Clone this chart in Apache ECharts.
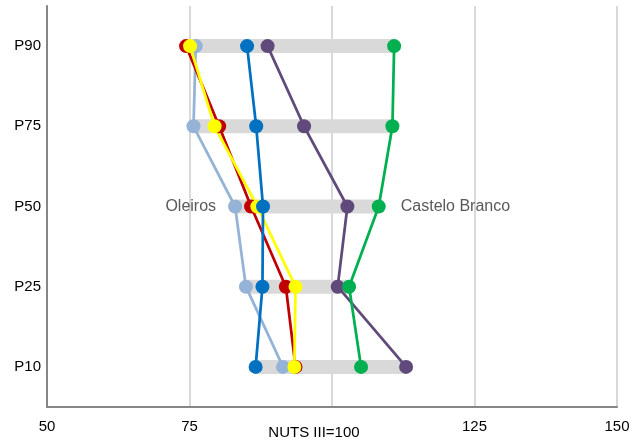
<!DOCTYPE html>
<html>
<head>
<meta charset="utf-8">
<script src="https://cdn.jsdelivr.net/npm/echarts@6/dist/echarts.min.js"></script>
<style>html,body{margin:0;padding:0;background:#fff}#c{width:644px;height:441px}</style>
</head>
<body>
<div id="c"></div>
<script>
var categories = ['P10', 'P25', 'P50', 'P75', 'P90'];
var xTicks = [50, 75, 100, 125, 150];
var oleiros = [91.4, 84.9, 83.0, 75.7, 76.1];
var redSeries = [93.6, 91.9, 85.8, 80.2, 74.4];
var yellowSeries = [93.4, 93.6, 86.9, 79.4, 75.1];
var blueSeries = [86.6, 87.8, 87.9, 86.7, 85.1];
var purpleSeries = [113.0, 101.0, 102.7, 95.1, 88.7];
var casteloBranco = [105.1, 103.0, 108.2, 110.6, 110.9];

var all = [oleiros, redSeries, yellowSeries, blueSeries, purpleSeries, casteloBranco];
var mins = categories.map(function (c, i) { return Math.min.apply(null, all.map(function (s) { return s[i]; })); });
var ranges = categories.map(function (c, i) { return Math.max.apply(null, all.map(function (s) { return s[i]; })) - mins[i]; });

var FONT = 'Liberation Sans, Arial, sans-serif';
function lineSeries(name, data, color, label) {
  var s = {
    name: name, type: 'line', data: data, symbol: 'circle', symbolSize: 14,
    lineStyle: { color: color, width: 2.75 }, itemStyle: { color: color },
    animation: false
  };
  if (label) {
    s.data = data.map(function (v, i) {
      if (categories[i] === 'P50') {
        return { value: v, label: { show: true, position: label.pos, distance: label.dist, formatter: name,
          color: '#595959', fontSize: 16, fontFamily: FONT } };
      }
      return v;
    });
  }
  return s;
}

var chart = echarts.init(document.getElementById('c'), null, { renderer: 'canvas' });
chart.setOption({
  animation: false,
  grid: { left: 47, right: 27, top: 6, bottom: 34, containLabel: false },
  xAxis: {
    type: 'value', min: 50, max: 150, interval: 25,
    axisLine: { show: true, lineStyle: { color: '#868686', width: 2 } },
    axisTick: { show: false },
    splitLine: { show: true, lineStyle: { color: '#d9d9d9', width: 2 } },
    axisLabel: {
      margin: 12, color: '#000', fontSize: 15, fontFamily: FONT,
      formatter: function (v) { return v === 100 ? '{n|NUTS III=100}' : String(v); },
      rich: { n: { fontSize: 15, fontFamily: FONT, color: '#000', padding: [6, 36, 0, 0] } }
    }
  },
  yAxis: {
    type: 'category', data: categories, boundaryGap: true,
    axisLine: { show: true, lineStyle: { color: '#868686', width: 2 } },
    axisTick: { show: false },
    splitLine: { show: false },
    axisLabel: { margin: 6, color: '#000', fontSize: 15, fontFamily: FONT }
  },
  series: [
    { type: 'bar', stack: 'r', data: mins, barWidth: 14, itemStyle: { color: 'transparent' }, silent: true },
    { type: 'bar', stack: 'r', data: ranges, barWidth: 14, itemStyle: { color: '#d9d9d9' }, silent: true },
    lineSeries('Oleiros', oleiros, '#95b3d7', { pos: 'left', dist: 12 }),
    lineSeries('Proença-a-Nova', redSeries, '#c00000'),
    lineSeries('Vila Velha de Ródão', yellowSeries, '#ffff00'),
    lineSeries('Idanha-a-Nova', blueSeries, '#0070c0'),
    lineSeries('Penamacor', purpleSeries, '#604a7b'),
    lineSeries('Castelo Branco', casteloBranco, '#00b050', { pos: 'right', dist: 15 })
  ]
});
</script>
</body>
</html>
